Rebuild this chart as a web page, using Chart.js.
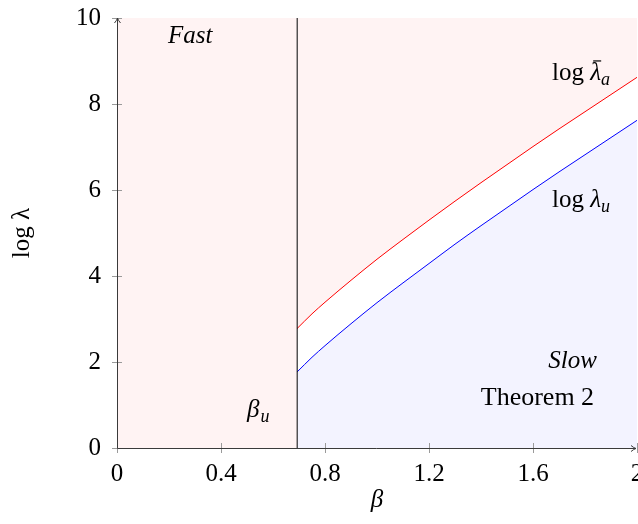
<!DOCTYPE html>
<html>
<head>
<meta charset="utf-8">
<script src="https://cdn.jsdelivr.net/npm/chart.js@4"></script>
<style>
  html, body { margin: 0; padding: 0; background: #fff; }
  #wrap { width: 638px; height: 524px; position: relative; }
</style>
</head>
<body>
<div id="wrap"><canvas id="c" width="638" height="524"></canvas></div>
<script>
// ---- data ----
const betaU = 0.693;
const beta = [0.693, 0.75, 0.8, 0.9, 1.0, 1.1, 1.2, 1.3, 1.4, 1.5, 1.6, 1.7, 1.8, 1.9, 2.0];
const logLambdaA = [2.78, 3.12, 3.39, 3.90, 4.39, 4.85, 5.30, 5.74, 6.17, 6.59, 7.01, 7.42, 7.82, 8.22, 8.62];
const logLambdaU = [1.77, 2.11, 2.38, 2.89, 3.38, 3.84, 4.29, 4.74, 5.17, 5.59, 6.01, 6.42, 6.82, 7.22, 7.62];
const xTicks = [0, 0.4, 0.8, 1.2, 1.6, 2];
const yTicks = [0, 2, 4, 6, 8, 10];
const xLabels = ['0', '0.4', '0.8', '1.2', '1.6', '2'];
const yLabels = ['0', '2', '4', '6', '8', '10'];

const PINK = 'rgb(255,243,243)';
const BLUE5 = 'rgb(243,243,255)';
const SERIF = '"Liberation Serif", "DejaVu Serif", serif';

const pts = (xs, ys) => xs.map((x, i) => ({ x: x, y: ys[i] }));

const decor = {
  id: 'decor',
  afterDraw(chart) {
    const ctx = chart.ctx;
    const xs = chart.scales.x, ys = chart.scales.y;
    const X = v => xs.getPixelForValue(v), Y = v => ys.getPixelForValue(v);
    const a = chart.chartArea;
    ctx.save();
    // tick marks
    ctx.strokeStyle = '#9a9a9a';
    ctx.lineWidth = 1;
    ctx.beginPath();
    xTicks.forEach(t => { const px = Math.round(X(t)) + 0.5; ctx.moveTo(px, a.bottom - 5); ctx.lineTo(px, a.bottom + 5); });
    yTicks.forEach(t => { const py = Math.round(Y(t)) + 0.5; ctx.moveTo(a.left - 5, py); ctx.lineTo(a.left + 5, py); });
    ctx.stroke();
    // axis lines with arrows
    ctx.strokeStyle = '#3a3a3a';
    ctx.lineWidth = 1;
    const x0 = Math.round(a.left) + 0.5, y0 = Math.round(a.bottom) + 0.5;
    ctx.beginPath();
    ctx.moveTo(x0, y0); ctx.lineTo(x0, a.top);
    ctx.moveTo(x0, y0); ctx.lineTo(a.right - 1, y0);
    ctx.stroke();
    ctx.beginPath();
    ctx.moveTo(x0 - 3, a.top + 5); ctx.quadraticCurveTo(x0 - 0.5, a.top + 2, x0, a.top);
    ctx.quadraticCurveTo(x0 + 0.5, a.top + 2, x0 + 3, a.top + 5);
    ctx.moveTo(a.right - 6, y0 - 3); ctx.quadraticCurveTo(a.right - 3, y0 - 0.5, a.right - 1, y0);
    ctx.quadraticCurveTo(a.right - 3, y0 + 0.5, a.right - 6, y0 + 3);
    ctx.stroke();

    // texts
    ctx.fillStyle = '#000';
    ctx.textBaseline = 'alphabetic';
    ctx.font = 'italic 25px ' + SERIF;
    ctx.textAlign = 'left';
    ctx.fillText('Fast', X(0.196), Y(9.42));
    ctx.textAlign = 'right';
    ctx.fillText('Slow', X(1.846), Y(1.86));
    ctx.font = '26px ' + SERIF;
    ctx.fillText('Theorem 2', X(1.835), Y(1.0));

    // beta_u
    ctx.textAlign = 'left';
    ctx.font = 'italic 25px ' + SERIF;
    let bx = X(0.5), by = Y(0.72);
    ctx.fillText('β', bx, by);
    let w = ctx.measureText('β').width;
    ctx.font = 'italic 18px ' + SERIF;
    ctx.fillText('u', bx + w + 1, by + 5);

    // log lambda with subscript (and optional bar)
    const drawLog = (px, py, sub, bar) => {
      ctx.font = '25px ' + SERIF;
      ctx.fillText('log ', px, py);
      let w1 = ctx.measureText('log ').width;
      ctx.font = 'italic 25px ' + SERIF;
      ctx.fillText('λ', px + w1, py);
      let w2 = ctx.measureText('λ').width;
      if (bar) {
        ctx.fillRect(px + w1 + 3, py - 20, 8, 1.2);
      }
      ctx.font = 'italic 18px ' + SERIF;
      ctx.fillText(sub, px + w1 + w2, py + 5);
    };
    drawLog(X(1.673), Y(8.55), 'a', true);
    drawLog(X(1.673), Y(5.6), 'u', false);
    ctx.restore();
  }
};

new Chart(document.getElementById('c'), {
  type: 'line',
  data: {
    datasets: [
      {
        label: 'βu line',
        data: pts([betaU, betaU], [0, 10]),
        borderColor: '#000', borderWidth: 1, pointRadius: 0, fill: false, order: 0
      },
      {
        label: 'log λ̄a',
        data: pts(beta, logLambdaA),
        borderColor: 'rgb(255,0,0)', borderWidth: 1, pointRadius: 0,
        cubicInterpolationMode: 'monotone',
        fill: 'end', backgroundColor: PINK, order: 1
      },
      {
        label: 'log λu',
        data: pts(beta, logLambdaU),
        borderColor: 'rgb(0,0,255)', borderWidth: 1, pointRadius: 0,
        cubicInterpolationMode: 'monotone',
        fill: 'origin', backgroundColor: BLUE5, order: 2
      },
      {
        label: 'fast region',
        data: pts([0, betaU], [10, 10]),
        borderWidth: 0, borderColor: 'rgba(0,0,0,0)', pointRadius: 0,
        fill: 'origin', backgroundColor: PINK, order: 3
      }
    ]
  },
  options: {
    responsive: false,
    animation: false,
    events: [],
    layout: { padding: { top: 18, right: 1, left: 0, bottom: 0 } },
    plugins: { legend: { display: false }, tooltip: { enabled: false } },
    scales: {
      x: {
        type: 'linear', min: 0, max: 2,
        grid: { display: false, drawTicks: false, tickLength: 0 },
        border: { display: false },
        afterBuildTicks: s => { s.ticks = xTicks.map(v => ({ value: v })); },
        afterFit: s => { s.height = 76; s.paddingLeft = 0; s.paddingRight = 0; },
        ticks: {
          autoSkip: false, maxRotation: 0, padding: 11, color: '#000',
          font: { family: SERIF, size: 25 },
          callback: (v, i) => xLabels[i]
        },
        title: { display: true, text: 'β', color: '#000', padding: { top: 0, bottom: 9 },
                 font: { family: SERIF, size: 25, style: 'italic' } }
      },
      y: {
        type: 'linear', min: 0, max: 10,
        grid: { display: false, drawTicks: false, tickLength: 0 },
        border: { display: false },
        afterBuildTicks: s => { s.ticks = yTicks.map(v => ({ value: v })); },
        afterFit: s => { s.width = 117; s.paddingTop = 0; s.paddingBottom = 0; },
        ticks: {
          autoSkip: false, padding: 16, color: '#000',
          font: { family: SERIF, size: 25 },
          callback: (v, i) => yLabels[i]
        },
        title: { display: true, text: 'log λ', color: '#000', padding: { top: 7, bottom: 0 },
                 font: { family: SERIF, size: 25 } }
      }
    }
  },
  plugins: [decor]
});
</script>
</body>
</html>
